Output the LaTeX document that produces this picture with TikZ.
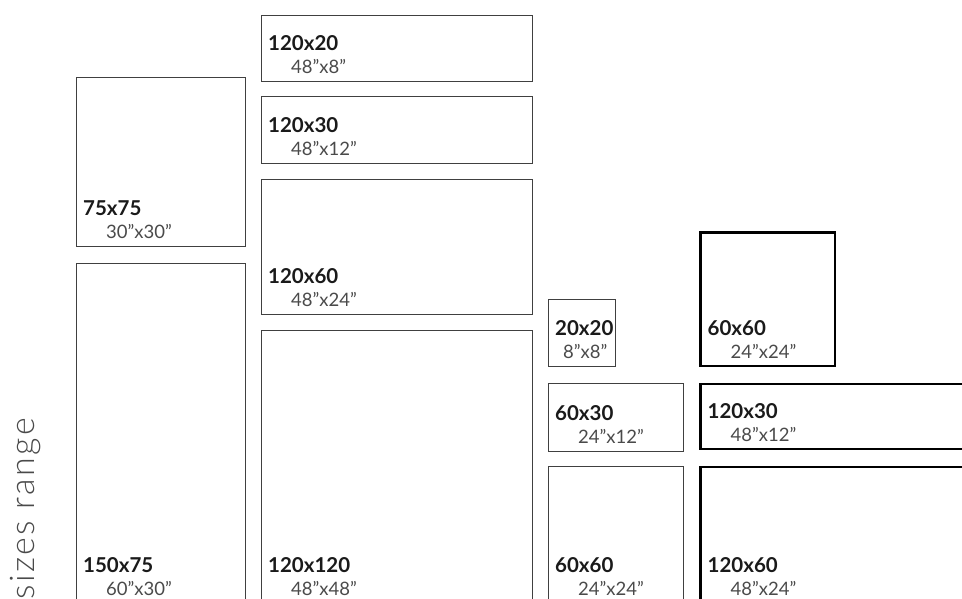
\documentclass[tikz,border=0pt]{standalone}
\usepackage{fontspec}
\setmainfont{Lato}
\newfontfamily\widelight{Lato Light}[LetterSpace=7]

\definecolor{framegray}{HTML}{404040}
\definecolor{labelblack}{HTML}{1A1A1A}
\definecolor{subgray}{HTML}{4A4A4A}

\begin{document}
\begin{tikzpicture}
  [x=1pt,y=-1pt,
   thinbox/.style={draw=framegray, line width=1pt, inner sep=0, outer sep=0, anchor=north west},
   thickbox/.style={draw=black, line width=2.7pt, inner sep=0, outer sep=0, anchor=north west},
   cmlabel/.style={anchor=base west, inner sep=0, text=labelblack, font=\bfseries\fontsize{20.5}{24}\selectfont},
   inchlabel/.style={anchor=base west, inner sep=0, text=subgray, font=\fontsize{18.5}{22}\selectfont}]
  \useasboundingbox (0,0) rectangle (962,598);
  \clip (0,0) rectangle (962,598);

  \node[rotate=90, anchor=base east, inner sep=0, text=subgray, font=\widelight\fontsize{34}{38}\selectfont] (title) at (34.5,418) {sizes range};

  % thin frames: name/x/y/width/height/cm/inch/indent
  \foreach \n/\x/\y/\w/\h/\cm/\inch/\dx in {
      s75/76/77/169/169/75x75/30”x30”/30,
      s150/76/263/169/340/150x75/60”x30”/30,
      s120a/261/15/271/66/120x20/48”x8”/30,
      s120b/261/96/271/67/120x30/48”x12”/30,
      s120c/261/179/271/135/120x60/48”x24”/30,
      s120d/261/330/271/273/120x120/48”x48”/30,
      s20/548/299/67/67/20x20/8”x8”/15,
      s60a/548/383/135/68/60x30/24”x12”/30,
      s60b/548/466/135/137/60x60/24”x24”/30}
  {
    \node[thinbox, minimum width=\w pt, minimum height=\h pt] (\n) at (\x,\y) {};
    \node[cmlabel] (\n-cm) at ([xshift=7pt,yshift=31pt]\n.south west) {\cm};
    \node[inchlabel] (\n-in) at ([xshift=\dx pt,yshift=8pt]\n.south west) {\inch};
  }

  % thick frames
  \foreach \n/\x/\y/\w/\h/\cm/\inch/\dx in {
      t60/700.5/232.5/134.5/133.5/60x60/24”x24”/30,
      t120a/700.5/384/271/65/120x30/48”x12”/30,
      t120b/700.5/467/271/136/120x60/48”x24”/30}
  {
    \node[thickbox, minimum width=\w pt, minimum height=\h pt] (\n) at (\x,\y) {};
    \node[cmlabel] (\n-cm) at ([xshift=7pt,yshift=31pt]\n.south west) {\cm};
    \node[inchlabel] (\n-in) at ([xshift=\dx pt,yshift=8pt]\n.south west) {\inch};
  }
\end{tikzpicture}
\end{document}
